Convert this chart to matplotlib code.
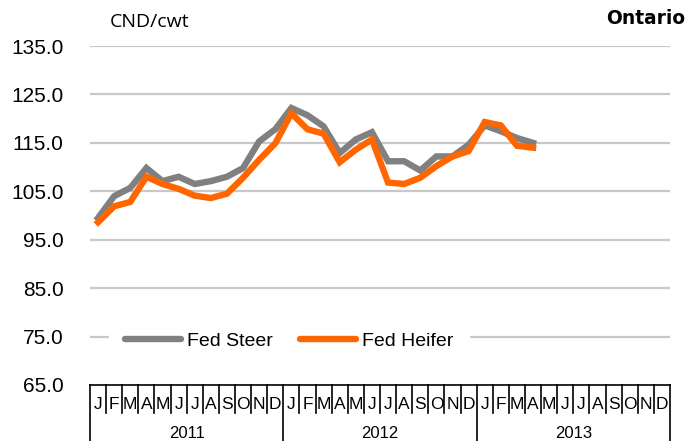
import matplotlib
matplotlib.use("Agg")
import matplotlib.pyplot as plt
import matplotlib.transforms as mtransforms

# monthly prices, Jan 2011 - Apr 2013 (CND/cwt)
steer = [99.5, 104.0, 105.7, 109.8, 107.1, 108.0, 106.5, 107.1, 108.0, 109.8, 115.3, 117.8,
         122.2, 120.7, 118.4, 112.9, 115.7, 117.2, 111.2, 111.2, 109.3, 112.2, 112.2, 114.6,
         118.6, 117.4, 116.0, 115.0]
heifer = [98.6, 101.9, 102.8, 108.0, 106.5, 105.5, 104.1, 103.6, 104.5, 107.8, 111.5, 114.9,
          121.1, 117.8, 116.9, 111.0, 113.6, 115.7, 106.8, 106.5, 107.8, 110.2, 112.2, 113.3,
          119.3, 118.6, 114.4, 114.0]
months = ["J", "F", "M", "A", "M", "J", "J", "A", "S", "O", "N", "D"]
years = ["2011", "2012", "2013"]
yticks = [65, 75, 85, 95, 105, 115, 125, 135]

plt.rcParams['font.family'] = ['Liberation Sans', 'DejaVu Sans']

fig = plt.figure(figsize=(7, 4.41), dpi=100)
ax = fig.add_axes([90/700, 56/441, 580/700, 339/441])

n_months = len(months) * len(years)
ax.set_xlim(-0.5, n_months - 0.5)
ax.set_ylim(yticks[0], yticks[-1])

for v in yticks[1:]:
    ax.axhline(v, color='#c8c8c8', lw=1.6, zorder=1)

x = list(range(len(steer)))
ax.plot(x, steer, color='#808080', lw=4.6, solid_joinstyle='miter', label='Fed Steer', zorder=3)
ax.plot(x, heifer, color='#ff6600', lw=4.6, solid_joinstyle='miter', label='Fed Heifer', zorder=4)

ax.set_yticks(yticks)
ax.set_yticklabels(["%.1f" % v for v in yticks], fontsize=15)
ax.tick_params(axis='y', length=0, pad=19)
ax.set_xticks([])
for s in ['left', 'right', 'top']:
    ax.spines[s].set_visible(False)
ax.spines['bottom'].set_color('black')
ax.spines['bottom'].set_linewidth(1.2)

# category axis: months and years under the plot
trans = mtransforms.blended_transform_factory(ax.transData, ax.transAxes)
for i in range(n_months + 1):
    bottom = -0.166 if i % 12 == 0 else -0.083
    ax.plot([i - 0.5, i - 0.5], [0, bottom], color='black', lw=1.2,
            transform=trans, clip_on=False)
for i in range(n_months):
    ax.text(i, -0.058, months[i % 12], transform=trans, ha='center', va='center',
            fontsize=12.5)
for j, yr in enumerate(years):
    ax.text(j * 12 + 5.5, -0.142, yr, transform=trans, ha='center', va='center',
            fontsize=12)

leg = ax.legend(loc='center left', bbox_to_anchor=(0.016, 0.13), ncol=2, fontsize=14,
                frameon=True, handlelength=2.9, handletextpad=0.3, columnspacing=1.4,
                borderpad=0.8)
leg.get_frame().set_facecolor('white')
leg.get_frame().set_edgecolor('white')
leg.get_frame().set_alpha(1)
for line in leg.get_lines():
    line.set_linewidth(4.6)
    line.set_solid_capstyle('round')

fig.text(110/700, 1 - 22/441, "CND/cwt", fontsize=14, family='Open Sans', va='center', ha='left')
fig.text(685/700, 1 - 19/441, "Ontario", fontsize=13.4, family='DejaVu Sans',
         fontweight='bold', va='center', ha='right')

fig.savefig("out.png", dpi=100)
